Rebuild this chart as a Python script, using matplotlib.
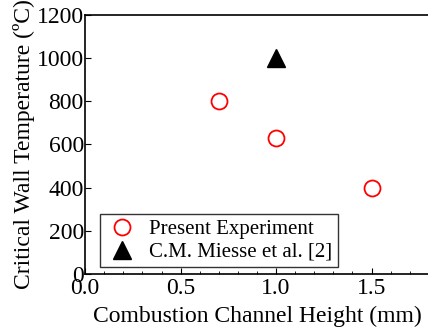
import matplotlib
matplotlib.use("Agg")
import matplotlib.pyplot as plt
from matplotlib.ticker import MultipleLocator

plt.rcParams["font.family"] = ["Liberation Serif", "DejaVu Serif"]

# data
present_h = [0.7, 1.0, 1.5]
present_t = [800, 630, 400]
miesse_h = [1.0]
miesse_t = [1000]

fig = plt.figure(figsize=(4.28, 3.31), dpi=100)
ax = fig.add_axes([0.199, 0.172, 0.803, 0.783])

ax.plot(present_h, present_t, "o", mfc="none", mec="red", mew=1.3,
        ms=11.5, ls="none", label="Present Experiment")
ax.plot(miesse_h, miesse_t, "^", color="black", ms=12.5, ls="none",
        label="C.M. Miesse et al. [2]")

ax.set_xlim(0, 1.8)
ax.set_ylim(0, 1200)
ax.xaxis.set_major_locator(MultipleLocator(0.5))
ax.xaxis.set_minor_locator(MultipleLocator(0.1))
ax.yaxis.set_major_locator(MultipleLocator(200))
ax.xaxis.set_major_formatter(plt.FormatStrFormatter("%.1f"))
ax.tick_params(which="both", direction="in", top=False, right=False,
               labelsize=17, pad=1)
ax.tick_params(axis="x", which="major", pad=3)
ax.tick_params(which="major", length=4)
ax.tick_params(which="minor", length=2.5)
for s in ax.spines.values():
    s.set_linewidth(1.2)

ax.set_xlabel("Combustion Channel Height (mm)", fontsize=17, labelpad=5)
ax.set_ylabel("Critical Wall Temperature (\u00baC)", fontsize=17, labelpad=1)

leg = ax.legend(loc="lower left", fontsize=15, frameon=True, fancybox=False,
                edgecolor="black", handletextpad=0.5, handlelength=1.6,
                labelspacing=0.15, borderpad=0.25, borderaxespad=0,
                bbox_to_anchor=(0.044, 0.027))
leg.get_frame().set_linewidth(1.0)

fig.savefig("out.png", dpi=100)
